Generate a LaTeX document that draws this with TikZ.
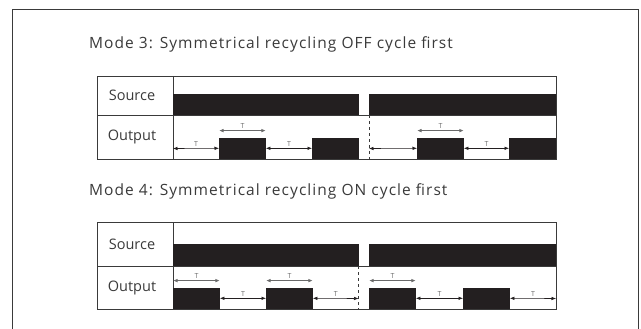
\documentclass[tikz,border=0pt]{standalone}
\usepackage{fontspec}
\setmainfont{Open Sans}
\newfontfamily\titlefont[LetterSpace=6.8]{Open Sans}
\usepackage{tikz}
\usetikzlibrary{arrows.meta}
\definecolor{ink}{HTML}{231F20}
\definecolor{rule}{HTML}{3A3A3A}
\definecolor{dim}{HTML}{6A6A6A}

\begin{document}
\begin{tikzpicture}[x=1pt,y=-1pt,
  frame/.style={draw=rule,line width=0.9pt},
  grid/.style={draw=rule,line width=0.8pt},
  bar/.style={fill=ink},
  pulse/.style={fill=ink,inner sep=0pt,minimum width=46.5pt,minimum height=21pt,anchor=south west},
  span/.style={{Latex[length=4.5pt,width=3.6pt]}-{Latex[length=4.5pt,width=3.6pt]},draw=ink,line width=0.6pt},
  spanup/.style={span,draw=dim,line width=1.3pt},
  tlabel/.style={font=\fontsize{7}{8}\selectfont,text=dim,inner sep=1.5pt,above},
  mode/.style={font=\titlefont\fontsize{15.5}{18}\selectfont,text=rule,anchor=west,inner sep=0pt},
  rowlabel/.style={font=\fontsize{14.5}{16}\selectfont,text=rule}]
  \useasboundingbox (0,0) rectangle (641,329);
  % outer frame, open at the bottom
  \draw[frame] (12.5,329) -- (12.5,9) -- (638,9) -- (638,329);

  % Mode 3
  \node[mode] (title3) at (89,44) {Mode 3: Symmetrical recycling OFF cycle first};
  \draw[grid] (97,76) rectangle (556,159);
  \draw[grid] (173,76) -- (173,159);
  \draw[grid] (97,115) -- (556,115);
  \node[rowlabel] (src3) at (132,95.5) {Source};
  \node[rowlabel] (out3) at (132,137) {Output};
  \fill[bar] (173,94) rectangle (359,115);
  \fill[bar] (369,94) rectangle (556,115);
  \draw[draw=rule,dashed,line width=0.6pt] (369,115) -- (369,159);
  \foreach \x/\n in {219/1,312/2,417/3,509/4}
    \node[pulse] (a\n) at (\x,159) {};
  \coordinate (s3) at (173,148.5);
  \coordinate (d3) at (369,148.5);
  \draw[span] (s3) -- node[tlabel] {T} (a1.west);
  \draw[span] (a1.east) -- node[tlabel] {T} (a2.west);
  \draw[span] (d3) -- (a3.west);
  \draw[span] (a3.east) -- node[tlabel] {T} (a4.west);
  \foreach \n in {1,3}
    \draw[spanup] ([yshift=7pt]a\n.north west) -- node[tlabel] {T} ([yshift=7pt]a\n.north east);

  % Mode 4
  \node[mode] (title4) at (89,191) {Mode 4: Symmetrical recycling ON cycle first};
  \draw[grid] (97,222) rectangle (556,309);
  \draw[grid] (173,222) -- (173,309);
  \draw[grid] (97,266) -- (556,266);
  \node[rowlabel] (src4) at (132,244) {Source};
  \node[rowlabel] (out4) at (132,287.5) {Output};
  \fill[bar] (173,244) rectangle (359,266);
  \fill[bar] (369,244) rectangle (556,266);
  \draw[draw=rule,dashed,line width=0.6pt] (358.5,266) -- (358.5,309);
  \foreach \x/\n in {173/1,266/2,369/3,463/4}
    \node[pulse] (b\n) at (\x,309) {};
  \coordinate (d4) at (358.5,298.5);
  \coordinate (e4) at (556,298.5);
  \draw[span] (b1.east) -- node[tlabel] {T} (b2.west);
  \draw[span] (b2.east) -- node[tlabel] {T} (d4);
  \draw[span] (b3.east) -- node[tlabel] {T} (b4.west);
  \draw[span] (b4.east) -- node[tlabel] {T} (e4);
  \foreach \n in {1,2,3}
    \draw[spanup] ([yshift=7pt]b\n.north west) -- node[tlabel] {T} ([yshift=7pt]b\n.north east);
\end{tikzpicture}
\end{document}
